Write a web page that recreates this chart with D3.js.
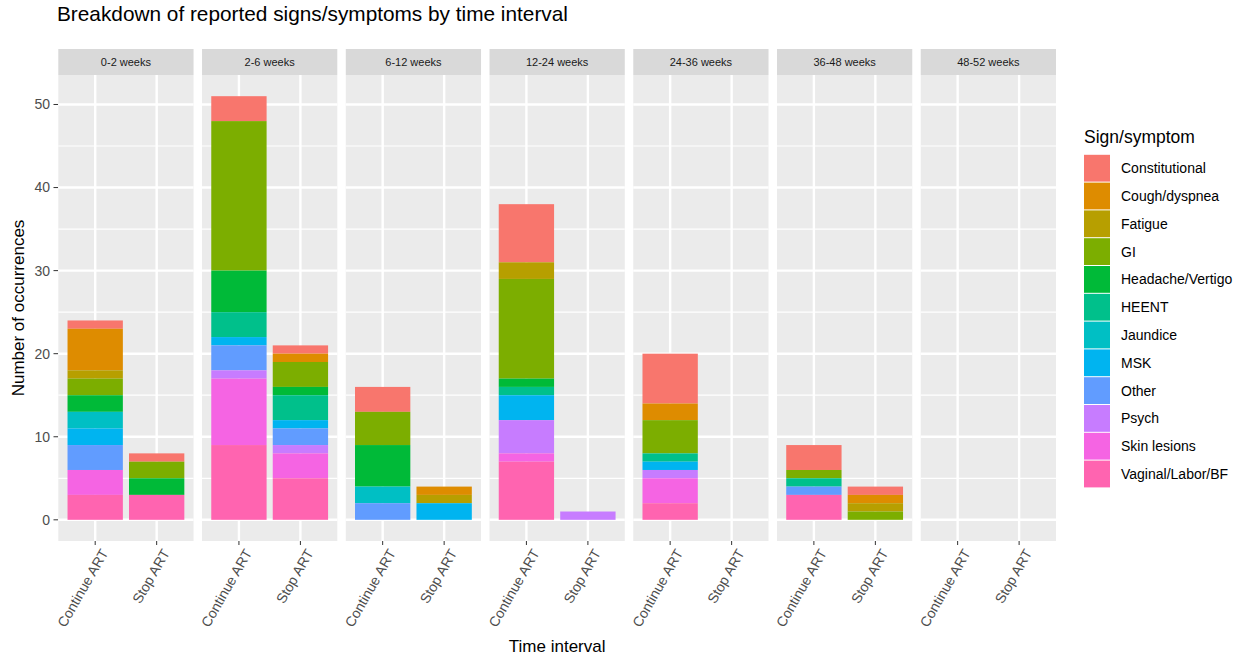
<!DOCTYPE html>
<html>
<head>
<meta charset="utf-8">
<script src="https://cdn.jsdelivr.net/npm/d3@7"></script>
<style>
  body { margin: 0; background: #fff; }
  text { font-family: "Liberation Sans", Arial, sans-serif; }
</style>
</head>
<body>
<script>
// data
var intervals = ["0-2 weeks", "2-6 weeks", "6-12 weeks", "12-24 weeks", "24-36 weeks", "36-48 weeks", "48-52 weeks"];
var arms = ["Continue ART", "Stop ART"];
var symptoms = ["Constitutional", "Cough/dyspnea", "Fatigue", "GI", "Headache/Vertigo", "HEENT",
  "Jaundice", "MSK", "Other", "Psych", "Skin lesions", "Vaginal/Labor/BF"];
var colors = ["#F8766D", "#DE8C00", "#B79F00", "#7CAE00", "#00BA38", "#00C08B",
  "#00BFC4", "#00B4F0", "#619CFF", "#C77CFF", "#F564E3", "#FF64B0"];
// counts per bar: interval x arm (Continue, Stop) in order of intervals
var constitutional = [1,1, 3,1, 3,0, 7,0, 6,0, 3,1, 0,0];
var cough          = [5,0, 0,1, 0,1, 0,0, 2,0, 0,1, 0,0];
var fatigue        = [1,0, 0,0, 0,1, 2,0, 0,0, 0,1, 0,0];
var gi             = [2,2, 18,3, 4,0, 12,0, 4,0, 1,1, 0,0];
var headache       = [2,2, 5,1, 5,0, 1,0, 0,0, 0,0, 0,0];
var heent          = [0,0, 3,3, 0,0, 1,0, 1,0, 1,0, 0,0];
var jaundice       = [2,0, 0,0, 2,0, 0,0, 0,0, 0,0, 0,0];
var msk            = [2,0, 1,1, 0,2, 3,0, 1,0, 0,0, 0,0];
var other          = [3,0, 3,2, 2,0, 0,0, 0,0, 1,0, 0,0];
var psych          = [0,0, 1,1, 0,0, 4,1, 1,0, 0,0, 0,0];
var skin           = [3,0, 8,3, 0,0, 1,0, 3,0, 0,0, 0,0];
var vaginal        = [3,3, 9,5, 0,0, 7,0, 2,0, 3,0, 0,0];
var yTicks = [0, 10, 20, 30, 40, 50];
var yMinor = [5, 15, 25, 35, 45];

var series = [constitutional, cough, fatigue, gi, headache, heent, jaundice, msk, other, psych, skin, vaginal];

var rows = [];
intervals.forEach(function(iv, i) {
  arms.forEach(function(a, j) {
    var r = {interval: iv, arm: a};
    symptoms.forEach(function(s, k) { r[s] = series[k][i * 2 + j]; });
    rows.push(r);
  });
});

var width = 1244, height = 658;
var panelTop = 75, panelBottom = 541, stripTop = 49;

var svg = d3.select("body").append("svg")
  .attr("width", width).attr("height", height);

var color = d3.scaleOrdinal().domain(symptoms).range(colors);

var px = d3.scaleBand().domain(intervals).range([58.3, 1056]).paddingInner(0.059);
var bx = d3.scaleBand().domain(arms).range([0, px.bandwidth()]).paddingInner(0.1).paddingOuter(0.15);
var y = d3.scaleLinear().domain([-2.55, 53.55]).range([panelBottom, panelTop]);

var stacked = d3.stack().keys(symptoms).order(d3.stackOrderReverse)(rows);

// title
svg.append("text")
  .attr("x", 57).attr("y", 21)
  .attr("font-size", "20.8px").attr("fill", "#000")
  .text("Breakdown of reported signs/symptoms by time interval");

intervals.forEach(function(iv) {
  var g = svg.append("g").attr("transform", "translate(" + px(iv) + ",0)");
  var w = px.bandwidth();

  // strip
  g.append("rect").attr("x", 0).attr("y", stripTop).attr("width", w)
    .attr("height", panelTop - stripTop).attr("fill", "#D9D9D9");
  g.append("text").attr("x", w / 2).attr("y", (stripTop + panelTop) / 2 + 4)
    .attr("text-anchor", "middle").attr("font-size", "11px").attr("fill", "#1A1A1A")
    .text(iv);

  // panel
  g.append("rect").attr("x", 0).attr("y", panelTop).attr("width", w)
    .attr("height", panelBottom - panelTop).attr("fill", "#EBEBEB");

  // minor grid
  yMinor.forEach(function(t) {
    g.append("line").attr("x1", 0).attr("x2", w)
      .attr("y1", y(t)).attr("y2", y(t))
      .attr("stroke", "#fff").attr("stroke-width", 1.2);
  });
  // major grid
  yTicks.forEach(function(t) {
    g.append("line").attr("x1", 0).attr("x2", w)
      .attr("y1", y(t)).attr("y2", y(t))
      .attr("stroke", "#fff").attr("stroke-width", 2.4);
  });
  arms.forEach(function(a) {
    var cx = bx(a) + bx.bandwidth() / 2;
    g.append("line").attr("x1", cx).attr("x2", cx)
      .attr("y1", panelTop).attr("y2", panelBottom)
      .attr("stroke", "#fff").attr("stroke-width", 2.4);
  });

  // bars
  stacked.forEach(function(s) {
    g.selectAll(null)
      .data(s.filter(function(d) { return d.data.interval === iv && d[1] > d[0]; }))
      .enter().append("rect")
      .attr("x", function(d) { return bx(d.data.arm); })
      .attr("width", bx.bandwidth())
      .attr("y", function(d) { return y(d[1]); })
      .attr("height", function(d) { return y(d[0]) - y(d[1]); })
      .attr("fill", color(s.key));
  });

  // x ticks
  arms.forEach(function(a) {
    var cx = bx(a) + bx.bandwidth() / 2;
    g.append("line").attr("x1", cx).attr("x2", cx)
      .attr("y1", panelBottom).attr("y2", panelBottom + 4)
      .attr("stroke", "#333").attr("stroke-width", 1);
    g.append("text")
      .attr("transform", "translate(" + (cx + 5) + "," + (panelBottom + 7) + ") rotate(-60)")
      .attr("text-anchor", "end").attr("dy", "0.7em")
      .attr("font-size", "14px").attr("fill", "#4D4D4D")
      .text(a);
  });
});

// y axis
var yAxis = svg.append("g");
yTicks.forEach(function(t) {
  yAxis.append("line").attr("x1", 53.5).attr("x2", 58)
    .attr("y1", y(t)).attr("y2", y(t)).attr("stroke", "#333");
  yAxis.append("text").attr("x", 50).attr("y", y(t)).attr("dy", "0.35em")
    .attr("text-anchor", "end").attr("font-size", "14px").attr("fill", "#4D4D4D")
    .text(t);
});

svg.append("text")
  .attr("transform", "translate(24," + ((panelTop + panelBottom) / 2) + ") rotate(-90)")
  .attr("text-anchor", "middle").attr("font-size", "17px").attr("fill", "#000")
  .text("Number of occurrences");

svg.append("text")
  .attr("x", (58.3 + 1056) / 2).attr("y", 652)
  .attr("text-anchor", "middle").attr("font-size", "17px").attr("fill", "#000")
  .text("Time interval");

// legend
var legend = svg.append("g").attr("transform", "translate(1084,0)");
legend.append("text").attr("x", 0).attr("y", 143)
  .attr("font-size", "17.5px").attr("fill", "#000").text("Sign/symptom");
var keyH = 27.8;
symptoms.forEach(function(s, i) {
  var ky = 154.3 + i * keyH;
  legend.append("rect").attr("x", 0).attr("y", ky + 0.5).attr("width", 26)
    .attr("height", keyH - 1).attr("fill", color(s));
  legend.append("text").attr("x", 37).attr("y", ky + keyH / 2).attr("dy", "0.35em")
    .attr("font-size", "14px").attr("fill", "#000").text(s);
});
</script>
</body>
</html>
